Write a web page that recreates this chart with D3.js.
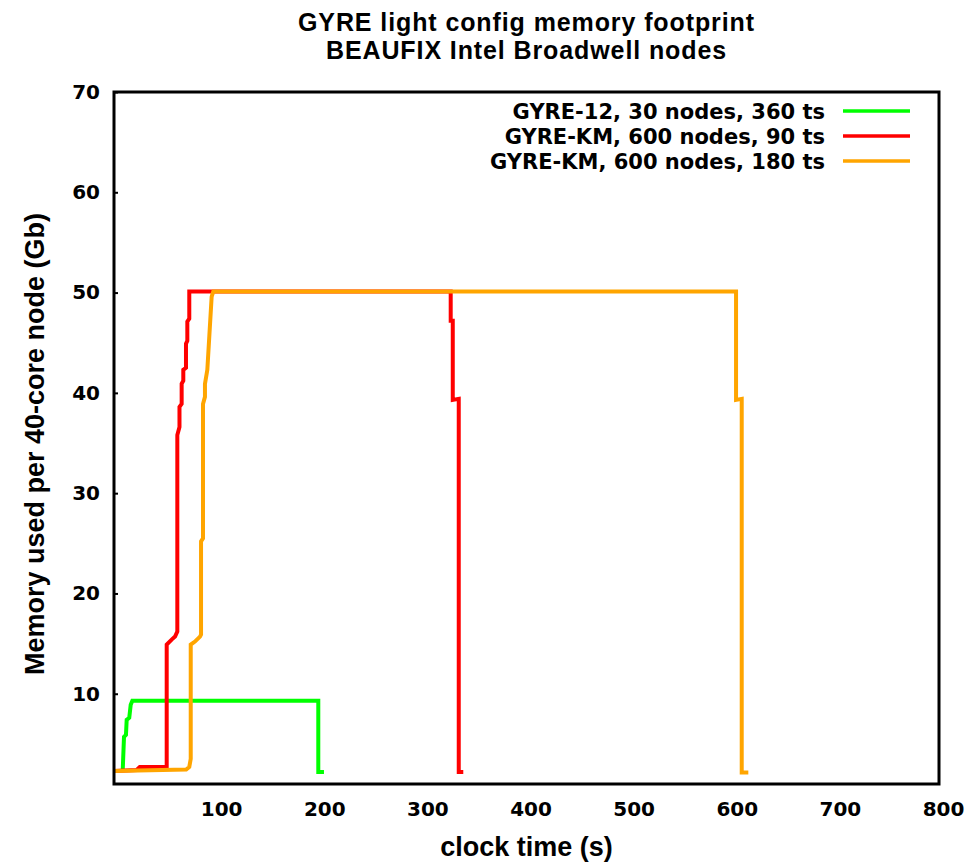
<!DOCTYPE html>
<html><head><meta charset="utf-8">
<script src="https://cdn.jsdelivr.net/npm/d3@7"></script>
<style>body{margin:0;background:#fff}</style>
</head><body>
<svg id="c" width="968" height="863"></svg>
<script>
const titleLines = ["GYRE light config memory footprint", "BEAUFIX Intel Broadwell nodes"];
const xLabel = "clock time (s)";
const yLabel = "Memory used per 40-core node (Gb)";
const xTicks = [100, 200, 300, 400, 500, 600, 700, 800];
const yTicks = [10, 20, 30, 40, 50, 60, 70];
const seriesNames = ["GYRE-12, 30 nodes, 360 ts", "GYRE-KM, 600 nodes, 90 ts", "GYRE-KM, 600 nodes, 180 ts"];
const seriesColors = ["#00ff00", "#ff0000", "#ffa500"];

const gyre12Time = [8.4, 9.7, 11.6, 12.3, 14.8, 16.2, 17.8, 198.1, 198.1, 203.6];
const gyre12Mem  = [2.2, 5.7, 5.9, 7.4, 7.6, 8.9, 9.3, 9.3, 2.2, 2.2];

const km90Time = [0, 22, 25, 51.1, 51.1, 55.9, 59.2, 61.4, 61.4, 63.5, 63.5, 65.6, 65.6, 67.2, 67.2, 69.8, 69.8, 71.1, 71.1, 73, 73, 326.5, 326.5, 328.5, 328.5, 334.3, 334.3, 338.7];
const km90Mem  = [2.3, 2.4, 2.7, 2.7, 14.9, 15.4, 15.7, 16.2, 35.8, 36.6, 38.6, 38.9, 40.9, 41.2, 42.3, 42.5, 44.9, 45.2, 47.1, 47.4, 50.1, 50.1, 47.2, 47.2, 39.3, 39.4, 2.2, 2.2];

const km180Time = [0, 70, 73, 74.4, 74.4, 78.5, 83.4, 84.4, 84.4, 86.3, 86.3, 88.2, 88.2, 90.5, 92.4, 94.7, 96.3, 603.2, 603.2, 608.7, 608.7, 615.1];
const km180Mem  = [2.3, 2.45, 2.7, 3.5, 14.9, 15.2, 15.7, 15.9, 25.2, 25.5, 38.9, 39.6, 40.9, 42.3, 45.6, 49.6, 50.1, 50.1, 39.3, 39.4, 2.15, 2.15];

const series = [
  {name: seriesNames[0], color: seriesColors[0], pts: gyre12Time.map((t, i) => [t, gyre12Mem[i]])},
  {name: seriesNames[1], color: seriesColors[1], pts: km90Time.map((t, i) => [t, km90Mem[i]])},
  {name: seriesNames[2], color: seriesColors[2], pts: km180Time.map((t, i) => [t, km180Mem[i]])}
];

const svg = d3.select("#c");
const L = 114, R = 939, T = 92, B = 784;
const x = d3.scaleLinear().domain([0, 800]).range([L, R]);
const y = d3.scaleLinear().domain([1, 70]).range([B, T]);

const tickFont = "'DejaVu Sans', sans-serif";
const titleFont = "'Liberation Sans', Arial, sans-serif";

// title
svg.append("g").selectAll("text").data(titleLines).join("text")
  .attr("x", (L + R) / 2).attr("y", (d, i) => 31 + i * 28)
  .attr("text-anchor", "middle")
  .style("font-family", titleFont).style("font-weight", "bold").style("font-size", "25px")
  .style("letter-spacing", "0.9px")
  .text(d => d);

// y axis
const gy = svg.append("g").attr("transform", `translate(${L},0)`)
  .call(d3.axisLeft(y).tickValues(yTicks).tickSize(-4).tickPadding(14));
gy.select(".domain").remove();
gy.selectAll(".tick line").attr("stroke", "#000").attr("stroke-width", 2);
gy.selectAll(".tick text").style("font-family", tickFont).style("font-weight", "bold").style("font-size", "20px").attr("fill", "#000");

// x axis
const gx = svg.append("g").attr("transform", `translate(0,${B})`)
  .call(d3.axisBottom(x).tickValues(xTicks).tickSize(0).tickPadding(17.5));
gx.select(".domain").remove();
gx.selectAll(".tick text").attr("dx", 4).style("font-family", tickFont).style("font-weight", "bold").style("font-size", "20px").attr("fill", "#000");

// axis titles
svg.append("text").attr("x", (L + R) / 2).attr("y", 856).attr("text-anchor", "middle")
  .style("font-family", titleFont).style("font-weight", "bold").style("font-size", "27px").text(xLabel);
svg.append("text").attr("transform", `translate(44,444) rotate(-90)`).attr("text-anchor", "middle")
  .style("font-family", titleFont).style("font-weight", "bold").style("font-size", "27px").text(yLabel);

// lines
const line = d3.line().x(d => x(d[0])).y(d => y(d[1]));
svg.append("g").selectAll("path").data(series).join("path")
  .attr("d", d => line(d.pts))
  .attr("fill", "none").attr("stroke", d => d.color)
  .attr("stroke-width", 4).attr("stroke-linejoin", "miter").attr("stroke-linecap", "butt");

// frame
svg.append("rect").attr("x", L).attr("y", T).attr("width", R - L).attr("height", B - T)
  .attr("fill", "none").attr("stroke", "#000").attr("stroke-width", 3);

// legend
const lg = svg.append("g").selectAll("g").data(series).join("g")
  .attr("transform", (d, i) => `translate(0,${111 + i * 25})`);
lg.append("text").attr("x", 825).attr("y", 7.5).attr("text-anchor", "end")
  .style("font-family", tickFont).style("font-weight", "bold").style("font-size", "21px")
  .text(d => d.name);
lg.append("line").attr("x1", 843).attr("x2", 910).attr("y1", 0).attr("y2", 0)
  .attr("stroke", d => d.color).attr("stroke-width", 3.5);
</script>
</body></html>
